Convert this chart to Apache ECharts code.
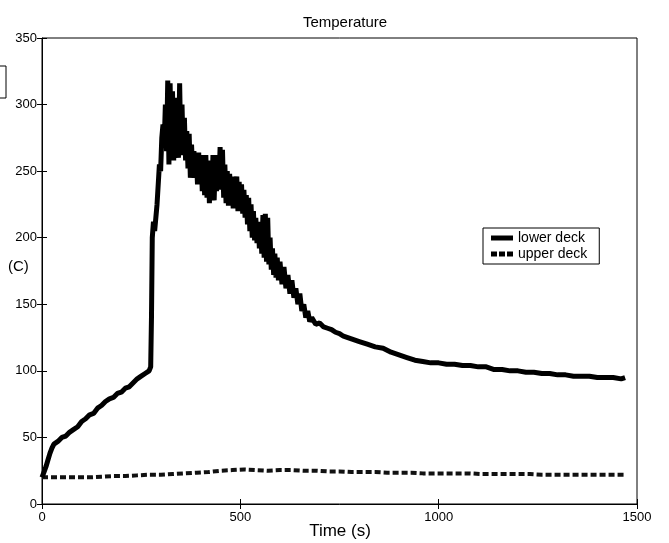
<!DOCTYPE html>
<html>
<head>
<meta charset="utf-8">
<script src="https://cdn.jsdelivr.net/npm/echarts@6/dist/echarts.min.js"></script>
<style>html,body{margin:0;padding:0;background:#fff;}#c{width:669px;height:543px;}</style>
</head>
<body>
<div id="c"></div>
<script>
// ---- data ----
var titleText = 'Temperature';
var xAxisName = 'Time (s)';
var yAxisName = '(C)';
var seriesNames = ['lower deck', 'upper deck'];
var xTicks = [0, 500, 1000, 1500];
var yTicks = [0, 50, 100, 150, 200, 250, 300, 350];

var lowerTime = [0,5,10,15,20,25,30,40,50,60,70,80,90,100,110,120,130,140,150,160,170,180,190,200,210,220,230,240,250,260,270,274,276,278,281,284,287,290,293,296,299,302,305,308,311,314,317,320,323,326,329,332,335,338,341,344,347,350,353,356,359,362,365,368,371,374,377,380,383,386,389,392,395,398,401,404,407,410,413,416,419,422,425,428,431,434,437,440,443,446,449,452,455,458,461,464,467,470,473,476,479,482,485,488,491,494,497,500,503,506,509,512,515,518,521,524,527,530,533,536,539,542,545,548,551,554,557,560,563,566,569,572,575,578,581,584,587,590,593,596,600,605,610,615,620,625,630,635,640,645,650,655,660,665,670,675,680,690,700,710,720,730,740,750,760,780,800,820,840,860,880,900,920,940,960,980,1000,1020,1040,1060,1080,1100,1120,1140,1160,1180,1200,1220,1240,1260,1280,1300,1320,1340,1360,1380,1400,1420,1440,1460,1470];
var lowerDeck = [20,24,28,33,38,42,45,47,50,51,54,56,58,62,64,67,68,72,74,77,79,80,83,84,87,88,91,94,96,98,100,103,140,200,212,205,215,225,240,255,250,275,285,270,300,265,318,255,316,260,310,258,300,262,305,260,316,265,300,262,290,258,280,252,278,245,270,248,265,245,262,240,264,242,262,235,260,232,262,230,258,226,255,230,262,228,258,235,262,240,268,236,266,230,255,226,250,224,248,225,246,222,245,224,246,220,242,222,240,218,236,215,232,210,230,205,225,200,220,198,215,196,212,192,210,188,217,185,218,182,215,180,200,176,192,172,188,170,185,168,182,165,178,162,172,158,168,155,162,150,158,145,150,140,145,137,140,135,136,133,132,131,129,128,126,124,122,120,118,117,114,112,110,108,107,106,106,105,105,104,104,103,103,101,101,100,100,99,99,98,98,97,97,96,96,96,95,95,95,94,95];

var upperTime = [0,30,60,90,120,150,180,210,240,270,300,330,360,390,420,450,480,510,540,570,600,630,660,690,720,750,780,810,840,870,900,930,960,990,1020,1050,1080,1110,1140,1170,1200,1230,1260,1290,1320,1350,1380,1410,1440,1470];
var upperDeck = [20,20,20,20,20,20.5,21,21,21.5,22,22,22.5,23,23.5,24,25,25.5,26,25.5,25,25.5,25.5,25,25,24.5,24.5,24,24,24,23.5,23.5,23.5,23,23,23,23,23,22.5,22.5,22.5,22.5,22.5,22,22,22,22,22,22,22,22];

function zip(t, v) { return t.map(function (x, i) { return [x, v[i]]; }); }

var chart = echarts.init(document.getElementById('c'), null, {renderer: 'canvas'});
var font = 'Liberation Sans, Arial, sans-serif';
var tickStyle = {show: true, inside: true, length: 5, lineStyle: {color: '#000', width: 1}};
var hiddenAxisBase = {
  min: 0, show: true,
  axisLine: {show: false}, axisLabel: {show: false}, splitLine: {show: false},
  axisTick: tickStyle
};
var plain = function (v) { return String(v); };
chart.setOption({
  backgroundColor: '#fff',
  animation: false,
  title: {
    text: titleText, left: 340, top: 10, textAlign: 'center',
    textStyle: {fontFamily: font, fontSize: 15, fontWeight: 'normal', color: '#000'}
  },
  legend: {
    orient: 'vertical', left: 483, top: 228,
    data: [
      {name: seriesNames[0], icon: 'rect'},
      {name: seriesNames[1], icon: 'path://M0,0h6v5h-6z M8,0h6v5h-6z M16,0h6v5h-6z'}
    ],
    backgroundColor: '#fff', borderColor: '#000', borderWidth: 1,
    padding: [3, 12, 3, 8], itemGap: 2, itemWidth: 22, itemHeight: 5,
    itemStyle: {color: '#000'},
    textStyle: {fontFamily: font, fontSize: 14, color: '#000', padding: [0, 0, 0, 0]}
  },
  grid: {left: 42, right: 32, top: 38, bottom: 39, containLabel: false, outerBoundsMode: 'none',
    show: true, borderColor: '#000', borderWidth: 1, backgroundColor: 'transparent'},
  xAxis: [{
    type: 'value', min: 0, max: 1500, interval: 500, position: 'bottom',
    axisLine: {show: true, lineStyle: {color: '#000'}},
    axisTick: tickStyle,
    axisLabel: {fontFamily: font, fontSize: 13, color: '#000', margin: 7, formatter: plain},
    splitLine: {show: false}
  }, Object.assign({type: 'value', max: 1500, interval: 500, position: 'top'}, hiddenAxisBase)],
  yAxis: [{
    type: 'value', min: 0, max: 350, interval: 50, position: 'left',
    axisLine: {show: true, lineStyle: {color: '#000'}},
    axisTick: tickStyle,
    axisLabel: {fontFamily: font, fontSize: 13, color: '#000', margin: 5, formatter: plain},
    splitLine: {show: false}
  }, Object.assign({type: 'value', max: 350, interval: 50, position: 'right'}, hiddenAxisBase)],
  series: [{
    name: seriesNames[0], type: 'line', data: zip(lowerTime, lowerDeck),
    symbol: 'none', lineStyle: {color: '#000', width: 5, join: 'bevel'}, itemStyle: {color: '#000'}, z: 3
  }, {
    name: seriesNames[1], type: 'line', data: zip(upperTime, upperDeck),
    symbol: 'none', lineStyle: {color: '#111', width: 4, type: [6, 3]}, itemStyle: {color: '#111'}, z: 2
  }],
  graphic: [{
    type: 'rect', shape: {x: -5, y: 66, width: 11, height: 32},
    style: {fill: 'none', stroke: '#000', lineWidth: 1}
  }, {
    type: 'text', left: 8, top: 259,
    style: {text: yAxisName, fontFamily: font, fontSize: 15, fill: '#000'}
  }, {
    type: 'text', x: 340, y: 531,
    style: {text: xAxisName, fontFamily: font, fontSize: 17, fill: '#000', textAlign: 'center', textVerticalAlign: 'middle'}
  }]
});
</script>
</body>
</html>
